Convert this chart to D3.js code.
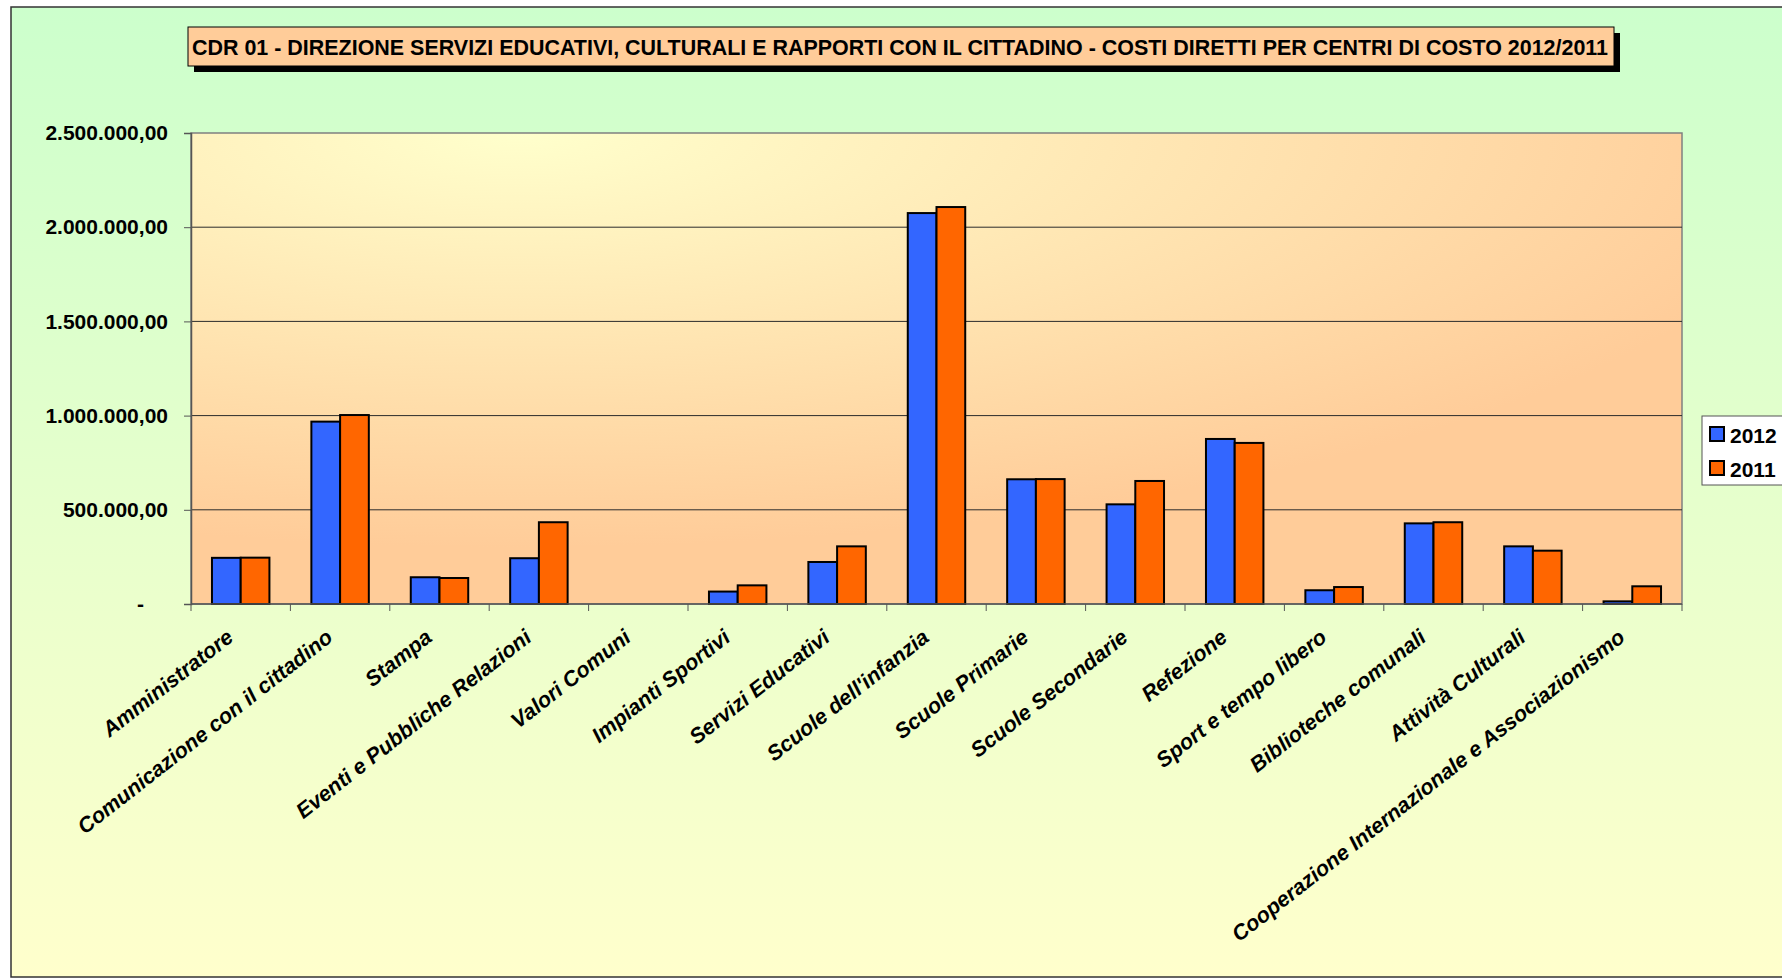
<!DOCTYPE html>
<meta charset="utf-8">
<style>
body { margin: 0; background: #fff; }
text { font-family: "Liberation Sans", Arial, sans-serif; font-weight: bold; fill: #000; }
.grid line { stroke: #2b2b2b; stroke-width: 1px; }
.bars rect { stroke: #000; stroke-width: 2px; }
</style>
<svg width="1782" height="978"></svg>
<script src="https://cdnjs.cloudflare.com/ajax/libs/d3/7.8.5/d3.min.js"></script>
<script>

var categories = ["Amministratore", "Comunicazione con il cittadino", "Stampa",
  "Eventi e Pubbliche Relazioni", "Valori Comuni", "Impianti Sportivi",
  "Servizi Educativi", "Scuole dell'infanzia", "Scuole Primarie",
  "Scuole Secondarie", "Refezione", "Sport e tempo libero",
  "Biblioteche comunali", "Attività Culturali",
  "Cooperazione Internazionale e Associazionismo"];

var series = ["2012", "2011"];
var values2012 = [245000, 968000, 142000, 243000, 0, 66000, 223000, 2075000,
  662000, 529000, 876000, 73000, 428000, 306000, 14000];
var values2011 = [246000, 1003000, 138000, 434000, 0, 99000, 306000, 2107000,
  663000, 653000, 855000, 90000, 434000, 283000, 94000];
var yTicks = [0, 500000, 1000000, 1500000, 2000000, 2500000];
var colors = ["#3366ff", "#ff6600"];

var title = "CDR 01 - DIREZIONE SERVIZI EDUCATIVI, CULTURALI E RAPPORTI CON IL CITTADINO - COSTI DIRETTI PER CENTRI DI COSTO 2012/2011";

var svg = d3.select("svg");
var defs = svg.append("defs");

// chart area background (green -> pale yellow)
var bg = defs.append("linearGradient").attr("id", "bgGrad")
    .attr("x1", 0).attr("y1", 0).attr("x2", 0).attr("y2", 1);
bg.append("stop").attr("offset", 0).attr("stop-color", "#ccffcc");
bg.append("stop").attr("offset", 1).attr("stop-color", "#ffffcc");

// plot area background (pale yellow -> peach)
var pg = defs.append("radialGradient").attr("id", "plotGrad")
    .attr("cx", 0.22).attr("cy", 0).attr("r", 1).attr("fx", 0.22).attr("fy", 0);
pg.append("stop").attr("offset", 0).attr("stop-color", "#ffffcc");
pg.append("stop").attr("offset", 0.88).attr("stop-color", "#ffcc99");

svg.append("rect")
    .attr("x", 11).attr("y", 7).attr("width", 1800).attr("height", 970)
    .attr("fill", "url(#bgGrad)")
    .attr("stroke", "#333").attr("stroke-width", 1.5);

var plotL = 191, plotR = 1682, plotT = 133, plotB = 604;

var x = d3.scaleBand().domain(categories).range([plotL, plotR]);
var x1 = d3.scaleBand().domain(series).range([0, x.bandwidth()]).paddingOuter(0.73);
var y = d3.scaleLinear().domain([0, 2500000]).range([plotB, plotT]);

svg.append("rect")
    .attr("x", plotL).attr("y", plotT)
    .attr("width", plotR - plotL).attr("height", plotB - plotT)
    .attr("fill", "url(#plotGrad)")
    .attr("stroke", "#808080").attr("stroke-width", 1.5);

// gridlines
svg.append("g").attr("class", "grid")
  .selectAll("line")
  .data(yTicks.slice(1, -1))
  .enter().append("line")
    .attr("x1", plotL).attr("x2", plotR)
    .attr("y1", function(d) { return y(d); })
    .attr("y2", function(d) { return y(d); });

// y axis
var it = d3.formatLocale({decimal: ",", thousands: ".", grouping: [3], currency: ["€", ""]});
var fmt = it.format(",.2f");

var yAxis = svg.append("g")
    .attr("transform", "translate(" + plotL + ",0)")
    .call(d3.axisLeft(y).tickValues(yTicks).tickSize(7).tickPadding(16)
      .tickFormat(function(d) { return d === 0 ? "-" : fmt(d); }));
yAxis.select(".domain").attr("stroke", "#555").attr("stroke-width", 1.5);
yAxis.selectAll(".tick line").attr("stroke", "#555");
yAxis.selectAll("text")
    .style("font-size", "21px")
    .attr("dx", function(d) { return d === 0 ? -24 : 0; });

// bars
var rows = categories.map(function(c, i) {
  return {cat: c, vals: [values2012[i], values2011[i]]};
});

svg.append("g").attr("class", "bars")
  .selectAll("g")
  .data(rows)
  .enter().append("g")
    .attr("transform", function(d) { return "translate(" + x(d.cat) + ",0)"; })
  .selectAll("rect")
  .data(function(d) { return d.vals.map(function(v, j) { return {s: series[j], v: v, j: j}; }); })
  .enter().append("rect")
    .attr("x", function(d) { return x1(d.s); })
    .attr("width", x1.bandwidth())
    .attr("y", function(d) { return y(d.v); })
    .attr("height", function(d) { return y(0) - y(d.v); })
    .attr("fill", function(d) { return colors[d.j]; });

// x axis
svg.append("line")
    .attr("x1", plotL).attr("x2", plotR)
    .attr("y1", plotB).attr("y2", plotB)
    .attr("stroke", "#555").attr("stroke-width", 1.5);

var edges = categories.map(function(c) { return x(c); }).concat([plotR]);
svg.append("g")
  .selectAll("line")
  .data(edges)
  .enter().append("line")
    .attr("x1", function(d) { return d; }).attr("x2", function(d) { return d; })
    .attr("y1", plotB).attr("y2", plotB + 7)
    .attr("stroke", "#555");

svg.append("g")
  .selectAll("text")
  .data(categories)
  .enter().append("text")
    .attr("transform", function(d) {
      return "translate(" + (x(d) + x.bandwidth() / 2 - 6) + "," + (plotB + 36) + ") rotate(-38)";
    })
    .attr("text-anchor", "end")
    .style("font-size", "21.5px")
    .style("font-style", "italic")
    .text(function(d) { return d; });

// title box
svg.append("rect")
    .attr("x", 194).attr("y", 33).attr("width", 1426).attr("height", 39)
    .attr("fill", "#000");
svg.append("rect")
    .attr("x", 188).attr("y", 27).attr("width", 1426).attr("height", 39)
    .attr("fill", "#ffcc99").attr("stroke", "#000").attr("stroke-width", 1);
svg.append("text")
    .attr("x", 192).attr("y", 54.5)
    .attr("textLength", 1416).attr("lengthAdjust", "spacingAndGlyphs")
    .style("font-size", "22px")
    .text(title);

// legend
var legend = svg.append("g").attr("transform", "translate(1702,416)");
legend.append("rect")
    .attr("width", 120).attr("height", 69)
    .attr("fill", "#fff").attr("stroke", "#555").attr("stroke-width", 1);
var li = legend.selectAll("g.item")
  .data(series)
  .enter().append("g").attr("class", "item")
    .attr("transform", function(d, i) { return "translate(8," + (11 + i * 34) + ")"; });
li.append("rect")
    .attr("width", 14).attr("height", 14)
    .attr("fill", function(d, i) { return colors[i]; })
    .attr("stroke", "#000").attr("stroke-width", 2);
li.append("text")
    .attr("x", 20).attr("y", 15.5)
    .style("font-size", "21px")
    .text(function(d) { return d; });

</script>
